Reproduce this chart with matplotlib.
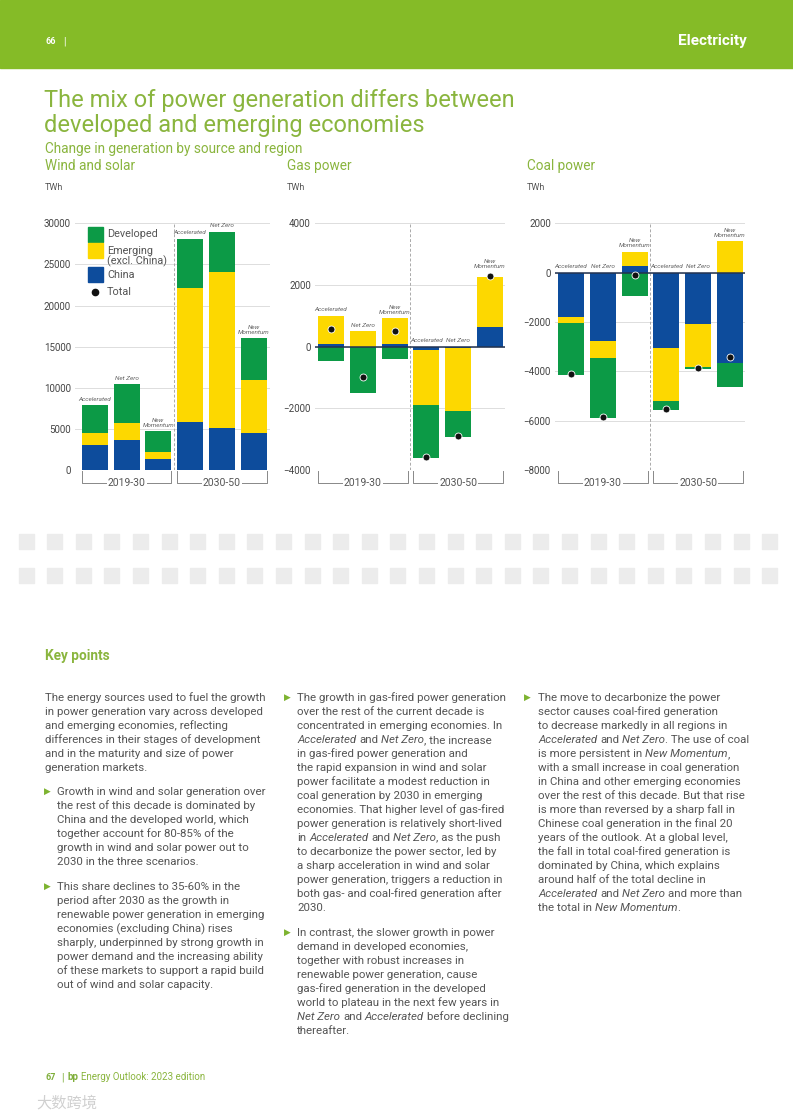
import matplotlib
matplotlib.use("Agg")
import matplotlib.pyplot as plt
from matplotlib.patches import Rectangle
import numpy as np

plt.rcParams['font.family'] = ['Roboto', 'DejaVu Sans']

W, H = 793, 1118
LIME = '#85bb27'
TITLE_GREEN = '#8ab53e'
DEV = '#0c9a46'
EMG = '#fdd800'
CHN = '#0d4c9c'
GREY = '#555555'

# data (TWh change), order: 2019-30 Acc, NZ, NM, 2030-50 Acc, NZ, NM
scenarios = ['Accelerated', 'Net Zero', 'New\nMomentum'] * 2
periods = ['2019-30', '2030-50']

ws_china = [3000, 3700, 1300, 5800, 5050, 4550]
ws_emerging = [1450, 2050, 930, 16300, 19000, 6450]
ws_developed = [3450, 4650, 2500, 6000, 4900, 5050]
ws_total = [7900, 10400, 4730, 28100, 28950, 16050]

gas_china = [100, 0, 90, -100, -50, 650]
gas_emerging = [900, 500, 830, -1780, -2050, 1600]
gas_developed = [-450, -1500, -410, -1730, -830, 0]
gas_total = [570, -970, 500, -3590, -2900, 2280]

coal_china = [-1800, -2770, 280, -3050, -2100, -3660]
coal_emerging = [-250, -670, 570, -2160, -1730, 1270]
coal_developed = [-2080, -2450, -930, -350, -70, -990]
coal_total = [-4100, -5860, -90, -5520, -3850, -3400]

fig = plt.figure(figsize=(W / 100, H / 100), dpi=100)
renderer = fig.canvas.get_renderer()


def fx(px):
    return px / W


def fy(py):
    return 1 - py / H


# header band
fig.patches.append(Rectangle((0, fy(68)), 1, 68 / H, transform=fig.transFigure,
                             color=LIME, zorder=0))
fig.text(fx(45), fy(42), '66', fontsize=6.5, weight='bold', color='white', va='center')
fig.text(fx(63), fy(42), '|', fontsize=7, color='white', va='center')
fig.text(fx(747), fy(41), 'Electricity', fontsize=11, weight='bold', color='white',
         va='center', ha='right')

fig.text(fx(44), fy(132), 'The mix of power generation differs between\n'
         'developed and emerging economies', fontsize=17, color=TITLE_GREEN,
         va='baseline', linespacing=1.12)
fig.text(fx(45), fy(149), 'Change in generation by source and region', fontsize=9.8,
         color=TITLE_GREEN, va='center')
for px, name in [(45, 'Wind and solar'), (287, 'Gas power'), (527, 'Coal power')]:
    fig.text(fx(px), fy(166), name, fontsize=9.8, color=TITLE_GREEN, va='center')
    fig.text(fx(px), fy(188), 'TWh', fontsize=6.5, color=GREY, va='center')


def stacked(ax, china, emerging, developed, total, show_total):
    x = np.arange(len(china))
    pos = np.zeros(len(x))
    neg = np.zeros(len(x))
    for vals, col in [(china, CHN), (emerging, EMG), (developed, DEV)]:
        v = np.array(vals, float)
        base = np.where(v >= 0, pos, neg)
        ax.bar(x, v, bottom=base, width=0.82, color=col, linewidth=0, zorder=3)
        pos = pos + np.clip(v, 0, None)
        neg = neg + np.clip(v, None, 0)
    if show_total:
        ax.plot(x, total, 'o', ms=5, mfc='#111111', mec='white', mew=0.6,
                zorder=5, clip_on=False)
    for xi, top, t, name in zip(x, pos, total, scenarios):
        y, off = max(top, 0.0), 2.5
        if show_total and t > y:
            y, off = t, 5.5
        ax.annotate(name, (xi, y), xytext=(0, off), textcoords='offset points',
                    ha='center', va='bottom', fontsize=4.6, style='italic',
                    color='#666666', linespacing=0.95, zorder=6)


def style_axes(ax, ticks, xlim, zero_line):
    ax.set_xlim(*xlim)
    ax.set_ylim(ticks[0], ticks[-1])
    ax.set_yticks(ticks)
    ax.set_xticks([])
    for s in ax.spines.values():
        s.set_visible(False)
    ax.tick_params(axis='y', length=0, pad=3, labelsize=7, labelcolor='#444444')
    ax.grid(axis='y', color='#dddddd', lw=0.7)
    ax.set_axisbelow(True)
    if zero_line:
        ax.axhline(0, color='#22324f', lw=1.1, zorder=4)
    ax.axvline(2.5, color='#aaaaaa', lw=0.7, ls=(0, (3, 2)), zorder=2)
    trans = ax.get_xaxis_transform()
    d = 0.052
    for g, label in enumerate(periods):
        xl, xr = g * 3 - 0.41, g * 3 + 2.41
        ax.plot([xl, xl, xr, xr], [-0.006, -d, -d, -0.006], transform=trans,
                clip_on=False, color='#888888', lw=0.7)
        ax.text((xl + xr) / 2, -d, label, transform=trans, ha='center', va='center',
                fontsize=7.5, color=GREY,
                bbox=dict(fc='white', ec='none', pad=0.8))


bottom, height = fy(470), 246.7 / H
ax1 = fig.add_axes([fx(75), bottom, 195 / W, height])
ax2 = fig.add_axes([fx(315), bottom, 190 / W, height])
ax3 = fig.add_axes([fx(555), bottom, 190 / W, height])

stacked(ax1, ws_china, ws_emerging, ws_developed, ws_total, False)
style_axes(ax1, list(range(0, 30001, 5000)), (-0.63, 5.52), False)
stacked(ax2, gas_china, gas_emerging, gas_developed, gas_total, True)
style_axes(ax2, list(range(-4000, 4001, 2000)), (-0.5, 5.47), True)
stacked(ax3, coal_china, coal_emerging, coal_developed, coal_total, True)
style_axes(ax3, list(range(-8000, 2001, 2000)), (-0.5, 5.47), True)

# legend (drawn in axes fraction of the first panel)
leg = [(DEV, 'Developed', 0.924, 0.957), (EMG, 'Emerging\n(excl. China)', 0.859, 0.866),
       (CHN, 'China', 0.762, 0.790)]
for col, lab, y0, ty in leg:
    ax1.add_patch(Rectangle((0.067, y0), 0.077, 0.061, transform=ax1.transAxes,
                            color=col, zorder=6))
    ax1.text(0.164, ty, lab, transform=ax1.transAxes, fontsize=7.8, color=GREY,
             va='center', linespacing=0.95, zorder=6)
ax1.plot([0.105], [0.722], 'o', ms=4.5, color='#111111', transform=ax1.transAxes, zorder=6)
ax1.text(0.164, 0.722, 'Total', transform=ax1.transAxes, fontsize=7.8, color=GREY,
         va='center', zorder=6)

# placeholder strip
for row_y in (534, 568):
    for px in np.arange(18.5, 775, 28.6):
        fig.patches.append(Rectangle((fx(px), fy(row_y + 15)), 15 / W, 15 / H,
                                     transform=fig.transFigure, color='#ececec', zorder=0))

fig.text(fx(45), fy(656), 'Key points', fontsize=9.8, weight='bold', color=TITLE_GREEN,
         va='center')

BODY = 8.25
LINE = 14


def text_w(s, style):
    t = fig.text(0, 0, s, fontsize=BODY, style=style)
    w = t.get_window_extent(renderer).width
    t.remove()
    return w


space_w = {st: text_w('a a', st) - text_w('aa', st) for st in ('normal', 'italic')}


def rich_line(px, py, line):
    for i, seg in enumerate(line.split('*')):
        st = 'italic' if i % 2 else 'normal'
        lead = len(seg) - len(seg.lstrip(' '))
        trail = len(seg) - len(seg.rstrip(' '))
        px += lead * space_w[st]
        core = seg.strip(' ')
        if core:
            t = fig.text(fx(px), fy(py), core, fontsize=BODY, style=st, color=GREY,
                         va='baseline')
            px += t.get_window_extent(renderer).width
        px += trail * space_w[st]


def paragraph(px, py, lines, bullet=None):
    for i, ln in enumerate(lines):
        rich_line(px, py + i * LINE, ln)
    if bullet is not None:
        fig.text(fx(bullet), fy(py - 4), '\u25B6', fontsize=6.3, color='#7db330',
                 va='center', family='DejaVu Sans')


paragraph(45, 701, [
    'The energy sources used to fuel the growth',
    'in power generation vary across developed',
    'and emerging economies, reflecting',
    'differences in their stages of development',
    'and in the maturity and size of power',
    'generation markets.'])
paragraph(57, 795, [
    'Growth in wind and solar generation over',
    'the rest of this decade is dominated by',
    'China and the developed world, which',
    'together account for 80-85% of the',
    'growth in wind and solar power out to',
    '2030 in the three scenarios.'], bullet=44)
paragraph(57, 890, [
    'This share declines to 35-60% in the',
    'period after 2030 as the growth in',
    'renewable power generation in emerging',
    'economies (excluding China) rises',
    'sharply, underpinned by strong growth in',
    'power demand and the increasing ability',
    'of these markets to support a rapid build',
    'out of wind and solar capacity.'], bullet=44)

paragraph(297, 701, [
    'The growth in gas-fired power generation',
    'over the rest of the current decade is',
    'concentrated in emerging economies. In',
    '*Accelerated* and *Net Zero*, the increase',
    'in gas-fired power generation and',
    'the rapid expansion in wind and solar',
    'power facilitate a modest reduction in',
    'coal generation by 2030 in emerging',
    'economies. That higher level of gas-fired',
    'power generation is relatively short-lived',
    'in *Accelerated* and *Net Zero*, as the push',
    'to decarbonize the power sector, led by',
    'a sharp acceleration in wind and solar',
    'power generation, triggers a reduction in',
    'both gas- and coal-fired generation after',
    '2030.'], bullet=284)
paragraph(297, 936, [
    'In contrast, the slower growth in power',
    'demand in developed economies,',
    'together with robust increases in',
    'renewable power generation, cause',
    'gas-fired generation in the developed',
    'world to plateau in the next few years in',
    '*Net Zero* and *Accelerated* before declining',
    'thereafter.'], bullet=284)

paragraph(538, 701, [
    'The move to decarbonize the power',
    'sector causes coal-fired generation',
    'to decrease markedly in all regions in',
    '*Accelerated* and *Net Zero*. The use of coal',
    'is more persistent in *New Momentum*,',
    'with a small increase in coal generation',
    'in China and other emerging economies',
    'over the rest of this decade. But that rise',
    'is more than reversed by a sharp fall in',
    'Chinese coal generation in the final 20',
    'years of the outlook. At a global level,',
    'the fall in total coal-fired generation is',
    'dominated by China, which explains',
    'around half of the total decline in',
    '*Accelerated* and *Net Zero* and more than',
    'the total in *New Momentum*.'], bullet=524)

# footer
fig.text(fx(45), fy(1077), '67', fontsize=6.5, weight='bold', color='#7fae3a', va='center')
fig.text(fx(61), fy(1077), '|', fontsize=7, color='#7fae3a', va='center')
fig.text(fx(68), fy(1077), 'bp', fontsize=7, weight='bold', color='#7fae3a', va='center')
fig.text(fx(81), fy(1077), 'Energy Outlook: 2023 edition', fontsize=7, color='#8ab53e',
         va='center')
fig.text(fx(36), fy(1103), '大数跨境', fontsize=11, color='#d0d0d0', va='center',
         family=['Noto Sans CJK SC', 'DejaVu Sans'])

fig.savefig('out.png', dpi=100)
